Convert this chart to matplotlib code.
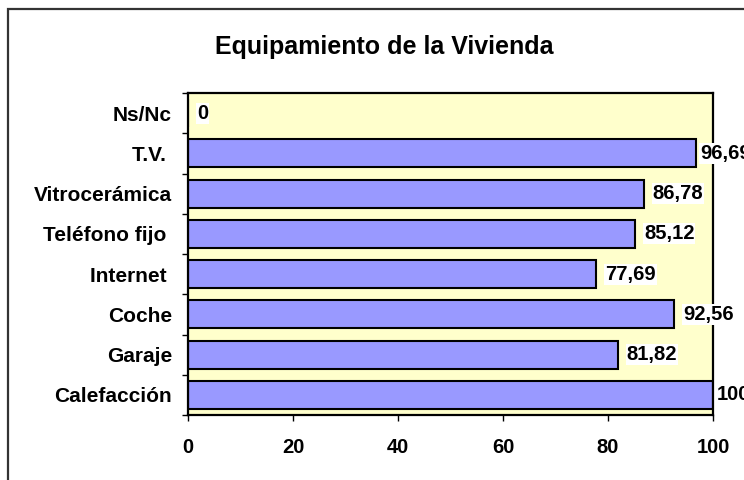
import matplotlib
matplotlib.use("Agg")
import matplotlib.pyplot as plt
from matplotlib.patches import Rectangle

plt.rcParams['font.family'] = ['Liberation Sans', 'DejaVu Sans']
plt.rcParams['font.weight'] = 'bold'

# bottom to top, as drawn
categories = ['Calefacción', 'Garaje', 'Coche', 'Internet ', 'Teléfono fijo ',
              'Vitrocerámica', 'T.V. ', 'Ns/Nc']
values = [100, 81.82, 92.56, 77.69, 85.12, 86.78, 96.69, 0]
xticks = [0, 20, 40, 60, 80, 100]

W, H = 744, 480
fig = plt.figure(figsize=(W / 100, H / 100), dpi=100)

# outer chart border (cut off on the right and bottom)
fig.patches.append(Rectangle((8 / W, -0.2), 2, (H - 9) / H + 0.2,
                             transform=fig.transFigure, fill=False,
                             edgecolor='#333333', lw=1.6))

ax = fig.add_axes([188 / W, 1 - 415 / H, (713 - 188) / W, (415 - 93) / H])
ax.set_facecolor('#FFFFCC')

pos = range(len(categories))
ax.barh(pos, values, height=0.69, color='#9999FF', edgecolor='black', lw=1.5)

for i, v in enumerate(values):
    txt = ('%.2f' % v).rstrip('0').rstrip('.').replace('.', ',')
    off = 3 if v > 95 else 6.5
    ax.annotate(txt, (v, i), xytext=(off, 0), textcoords='offset points',
                va='center', ha='left', fontsize=14.5, fontweight='bold',
                annotation_clip=False,
                bbox=dict(boxstyle='square,pad=0.05', fc='white', ec='none'))

ax.set_xlim(0, 100)
ax.set_ylim(-0.5, len(categories) - 0.5)
ax.set_xticks(xticks)
ax.set_xticklabels([str(t) for t in xticks], fontsize=14.5, fontweight='bold')
ax.tick_params(axis='x', direction='out', length=4.5, width=1, pad=12)

ax.set_yticks([i - 0.5 for i in range(len(categories) + 1)])
ax.set_yticklabels([])
ax.set_yticks(list(pos), minor=True)
ax.set_yticklabels(categories, minor=True, fontsize=15, fontweight='bold')
ax.tick_params(axis='y', which='major', direction='out', length=4.5, width=1)
ax.tick_params(axis='y', which='minor', length=0, pad=11.5)

for s in ax.spines.values():
    s.set_linewidth(1.6)

fig.text(384.5 / W, 1 - 47 / H, 'Equipamiento de la Vivienda', ha='center',
         va='center', fontsize=18, fontweight='bold')

fig.savefig('out.png', dpi=100, facecolor='white')
